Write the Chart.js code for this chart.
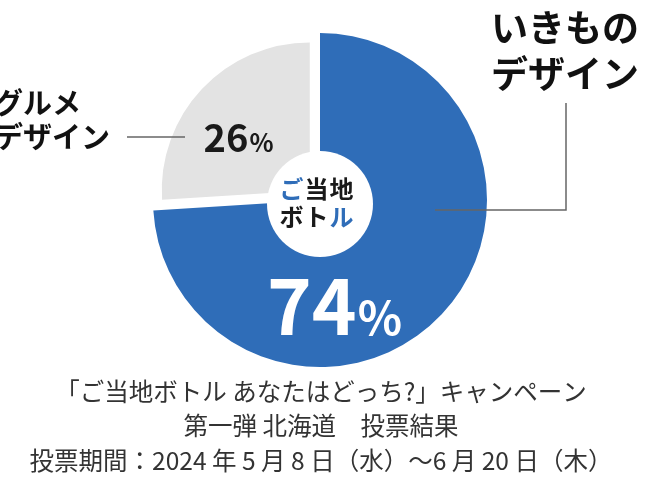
<!DOCTYPE html>
<html lang="ja">
<head>
<meta charset="utf-8">
<script src="https://cdn.jsdelivr.net/npm/chart.js@4.4.1/dist/chart.umd.min.js"></script>
<style>
  html, body { margin: 0; padding: 0; background: #fff; }
  #wrap { position: relative; width: 650px; height: 478px; }
</style>
</head>
<body>
<div id="wrap"><canvas id="pie"></canvas></div>
<script>
// data
const categories = ['いきものデザイン', 'グルメデザイン'];
const labelLines = [['いきもの', 'デザイン'], ['グルメ', 'デザイン']];
const votes = [74, 26];
const sliceColors = ['#2f6db8', '#e3e3e3'];
const hubLines = ['ご当地', 'ボトル'];
const captionLines = [
  '「ご当地ボトル あなたはどっち?」キャンペーン',
  '第一弾 北海道　投票結果',
  '投票期間：2024 年 5 月 8 日（水）～6 月 20 日（木）'
];

const JP = '"Noto Sans CJK JP", "Noto Sans", sans-serif';
const BLUE = sliceColors[0];

// draws "74" + smaller "%" centred on x
function drawPct(ctx, value, bigSize, smallSize, x, baseline, color) {
  const num = String(value);
  ctx.font = 'bold ' + bigSize + 'px ' + JP;
  const w1 = ctx.measureText(num).width;
  ctx.font = 'bold ' + smallSize + 'px ' + JP;
  const w2 = ctx.measureText('%').width;
  const start = x - (w1 + w2) / 2;
  ctx.fillStyle = color;
  ctx.textAlign = 'left';
  ctx.textBaseline = 'alphabetic';
  ctx.font = 'bold ' + bigSize + 'px ' + JP;
  ctx.fillText(num, start, baseline);
  ctx.font = 'bold ' + smallSize + 'px ' + JP;
  ctx.fillText('%', start + w1 + 1, baseline);
}

const decorate = {
  id: 'decorate',
  afterDatasetsUpdate(chart) {
    // grey slice sits a bit smaller than the blue one
    const arcs = chart.getDatasetMeta(0).data;
    if (arcs[1]) arcs[1].outerRadius = 148;
  },
  afterDatasetsDraw(chart) {
    const ctx = chart.ctx;
    const arc = chart.getDatasetMeta(0).data[0];
    const cx = arc.x, cy = arc.y;
    ctx.save();

    // white hub
    ctx.fillStyle = '#fff';
    ctx.beginPath();
    ctx.arc(cx, cy + 4, 53, 0, Math.PI * 2);
    ctx.fill();

    // hub text, first and last kana in blue
    ctx.font = 'bold 24px ' + JP;
    ctx.textBaseline = 'middle';
    ctx.textAlign = 'left';
    const hubY = [cy - 11, cy + 17];
    hubLines.forEach((line, i) => {
      const chars = line.split('');
      const step = 25;
      let x = cx - 3 - step * chars.length / 2;
      chars.forEach((ch, j) => {
        const blue = (i === 0 && j === 0) || (i === 1 && j === chars.length - 1);
        ctx.fillStyle = blue ? BLUE : '#1a1a1a';
        ctx.fillText(ch, x, hubY[i]);
        x += step;
      });
    });

    // percentages
    drawPct(ctx, votes[0], 76, 46, cx + 14, cy + 135, '#fff');
    drawPct(ctx, votes[1], 38, 25, cx - 82, cy - 48, '#1a1a1a');

    // leader lines
    ctx.strokeStyle = '#666';
    ctx.lineWidth = 1.5;
    ctx.beginPath();
    ctx.moveTo(cx + 246, cy - 97);
    ctx.lineTo(cx + 246, cy + 10);
    ctx.lineTo(cx + 115, cy + 10);
    ctx.stroke();
    ctx.beginPath();
    ctx.moveTo(cx - 193, cy - 63);
    ctx.lineTo(cx - 135, cy - 63);
    ctx.stroke();

    // category labels
    ctx.fillStyle = '#111';
    ctx.textBaseline = 'middle';
    ctx.textAlign = 'left';
    ctx.font = 'bold 37px ' + JP;
    ctx.fillText(labelLines[0][0], cx + 171, cy - 172);
    ctx.fillText(labelLines[0][1], cx + 171, cy - 126);
    ctx.font = 'bold 29px ' + JP;
    ctx.fillText(labelLines[1][0], cx - 326, cy - 97);
    ctx.fillText(labelLines[1][1], cx - 326, cy - 63);

    // caption
    ctx.fillStyle = '#333';
    ctx.textAlign = 'center';
    ctx.font = '24.5px ' + JP;
    const capY = [392, 426, 461];
    captionLines.forEach((line, i) => ctx.fillText(line, 321, capY[i]));

    ctx.restore();
  }
};

new Chart(document.getElementById('pie'), {
  type: 'pie',
  data: {
    labels: categories,
    datasets: [{
      data: votes,
      backgroundColor: sliceColors,
      borderWidth: 0,
      offset: [0, 56]
    }]
  },
  options: {
    responsive: true,
    maintainAspectRatio: false,
    animation: false,
    radius: 167,
    layout: { padding: { left: 0, right: 10, top: 0, bottom: 78 } },
    plugins: {
      legend: { display: false },
      tooltip: { enabled: false }
    }
  },
  plugins: [decorate]
});
</script>
</body>
</html>
